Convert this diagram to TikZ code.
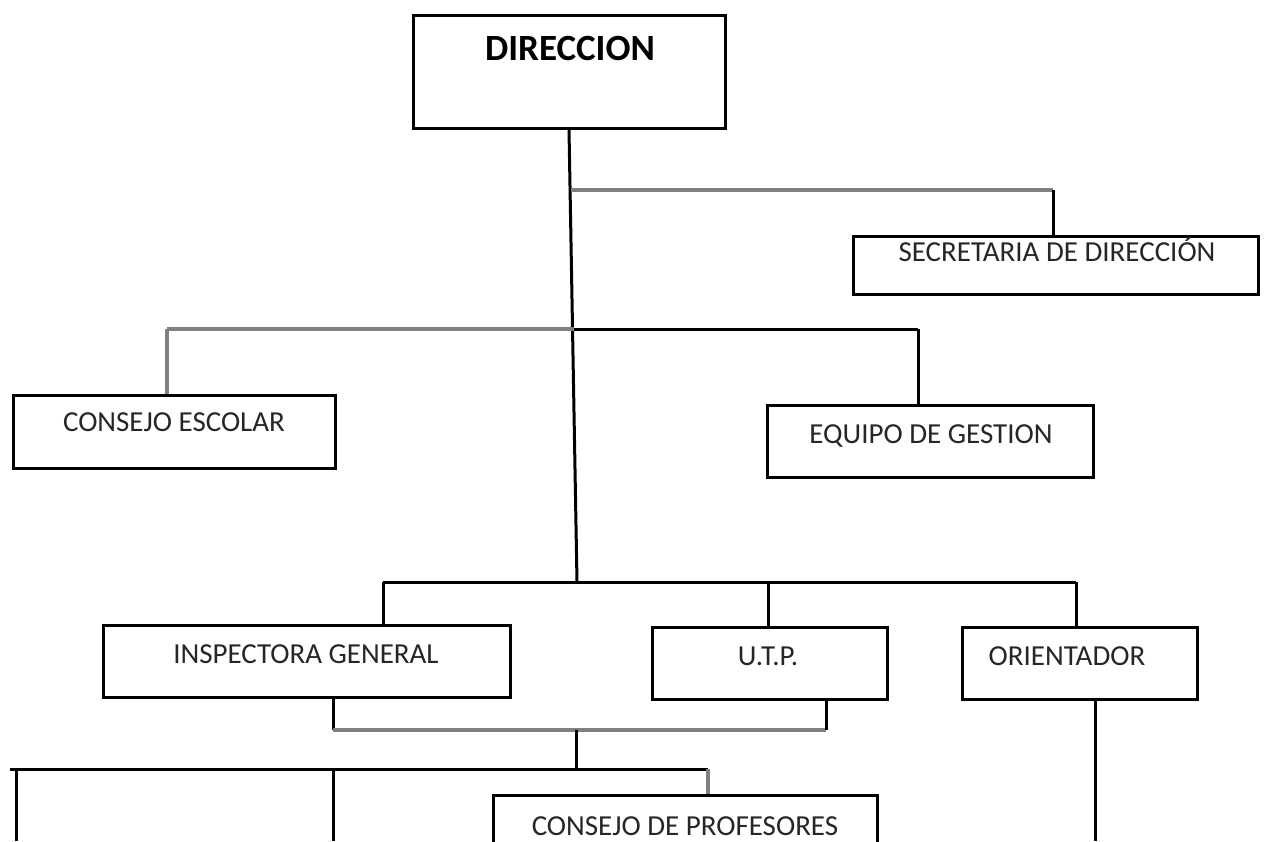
\documentclass[tikz,border=0pt]{standalone}
\usepackage{fontspec}
\setmainfont{Carlito}
\usetikzlibrary{calc}
\begin{document}
\begin{tikzpicture}[x=1pt,y=-1pt,
  box/.style={draw=black, line width=3pt, fill=white, inner sep=0pt},
  lbl/.style={font=\fontsize{29}{31}\selectfont, inner sep=0pt, anchor=base, text=black!85},
  blk/.style={draw=black, line width=3pt},
  gry/.style={draw=black!50, line width=3.5pt}]
\clip (0,0) rectangle (1264,841);
\fill[white] (0,0) rectangle (1264,841);
% boxes
\node[box, minimum width=312pt, minimum height=113pt] (dir) at (569,71.5) {};
\node[lbl, font=\fontsize{37}{39}\selectfont\bfseries, text=black] (dirt) at (570,60) {DIRECCION};
\node[box, minimum width=405pt, minimum height=58pt] (sec) at (1055.5,265) {};
\node[lbl] (sect) at (1057,261) {SECRETARIA DE DIRECCIÓN};
\node[box, minimum width=322pt, minimum height=73pt] (ce) at (174,431.5) {};
\node[lbl] (cet) at (174,431) {CONSEJO ESCOLAR};
\node[box, minimum width=326pt, minimum height=72pt] (eq) at (930,441) {};
\node[lbl] (eqt) at (931,443) {EQUIPO DE GESTION};
\node[box, minimum width=407pt, minimum height=72pt] (insp) at (306.5,661) {};
\node[lbl] (inspt) at (306,663) {INSPECTORA GENERAL};
\node[box, minimum width=235pt, minimum height=72pt] (utp) at (769.5,663) {};
\node[lbl] (utpt) at (768,665) {U.T.P.};
\node[box, minimum width=235pt, minimum height=72pt] (ori) at (1079.5,663) {};
\node[lbl] (orit) at (1067,665) {ORIENTADOR};
\node[box, minimum width=384pt, minimum height=80pt] (cp) at (685,835) {};
\node[lbl] (cpt) at (685,835) {CONSEJO DE PROFESORES};
% junction coordinates
\coordinate (j1) at (571,190);
\coordinate (j1r) at (1053,190);
\coordinate (j2l) at (167,329);
\coordinate (j2) at (574,329);
\coordinate (j2r) at (918,329);
\coordinate (j3) at (577,582);
\coordinate (j3l) at (383,582);
\coordinate (j3m) at (768,582);
\coordinate (j3r) at (1076,582);
\coordinate (j4l) at (333,730);
\coordinate (j4m) at (576,730);
\coordinate (j4r) at (826,730);
\coordinate (j5) at (576,769);
\coordinate (j5l) at (10,769);
\coordinate (j5a) at (16,769);
\coordinate (j5b) at (333,769);
\coordinate (j5r) at (708,769);
\coordinate (e5a) at (16,841);
\coordinate (e5b) at (333,841);
\coordinate (eor) at (1095,841);
% trunk
\draw[blk] (dir.south) -- (j3);
% level 1
\draw[gry] (j1) -- (j1r);
\draw[blk] (j1r) -- (sec.north -| j1r);
% level 2
\draw[gry] (j2l) -- (j2);
\draw[blk] (j2) -- (j2r);
\draw[gry] (j2l) -- (ce.north -| j2l);
\draw[blk] (j2r) -- (eq.north -| j2r);
% level 3
\draw[blk] (j3l) -- (j3r);
\draw[blk] (j3l) -- (insp.north -| j3l);
\draw[blk] (j3m) -- (utp.north -| j3m);
\draw[blk] (j3r) -- (ori.north -| j3r);
% level 4
\draw[blk] (insp.south -| j4l) -- (j4l);
\draw[gry] (j4l) -- (j4r);
\draw[blk] (j4r) -- (utp.south -| j4r);
\draw[blk] (j4m) -- (j5);
% level 5
\draw[blk] (j5l) -- (j5r);
\draw[blk] (j5a) -- (e5a);
\draw[blk] (j5b) -- (e5b);
\draw[gry] (j5r) -- (cp.north -| j5r);
\draw[blk] (ori.south -| eor) -- (eor);
\end{tikzpicture}
\end{document}
